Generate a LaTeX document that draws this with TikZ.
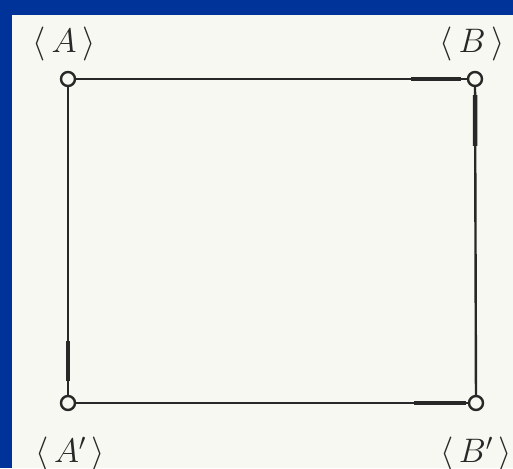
\documentclass[tikz,border=0pt]{standalone}
\usepackage{fix-cm}
\usepackage{amsmath}
\usetikzlibrary{positioning}

\definecolor{slideblue}{RGB}{0,51,153}
\definecolor{paper}{RGB}{248,248,242}
\definecolor{ink}{RGB}{40,40,40}

\begin{document}
\begin{tikzpicture}[x=1pt, y=-1pt,
    every node/.style={font=\fontsize{34}{40}\selectfont, text=ink},
    vtx/.style={circle, draw=ink, fill=paper, line width=2.4pt, inner sep=0pt, minimum size=14pt},
    side/.style={draw=ink, line width=2.4pt},
    flow/.style={draw=ink, line width=4.5pt}]
% frame
\fill[slideblue] (0,0) rectangle (513,468);
\fill[paper] (12,15) rectangle (513,468);
\useasboundingbox (0,0) rectangle (513,468);
% corners
\node[vtx] (A)  at (68,79)  {};
\node[vtx] (B)  at (475,79) {};
\node[vtx] (A') at (68,403) {};
\node[vtx] (B') at (476,403) {};
\node (lA)  at (64,44)  {$\langle\,A\,\rangle$};
\node (lB)  at (472,44) {$\langle\,B\,\rangle$};
\node (lA') at (70,454) {$\langle\,A'\,\rangle$};
\node (lB') at (476,454) {$\langle\,B'\,\rangle$};
% sides
\draw[side] (A) -- (B);
\draw[side] (B) -- (B');
\draw[side] (A) -- (A');
\draw[side] (A') -- (B');
% thick marks
\draw[flow, shorten <=335pt, shorten >=6pt]  (A) -- (B);
\draw[flow, shorten <=8pt,   shorten >=249pt] (B) -- (B');
\draw[flow, shorten <=254pt, shorten >=14pt] (A) -- (A');
\draw[flow, shorten <=338pt, shorten >=2pt]  (A') -- (B');
\end{tikzpicture}
\end{document}
